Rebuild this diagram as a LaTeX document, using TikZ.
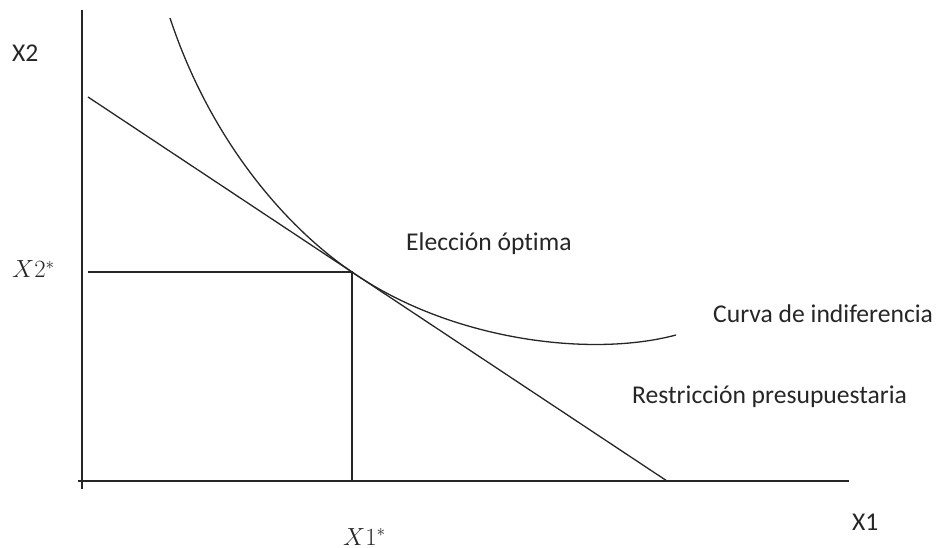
\documentclass[tikz,border=0pt]{standalone}
\usepackage{fontspec}
\setmainfont{Carlito}[Ligatures=NoCommon]
\begin{document}
\begin{tikzpicture}[x=1bp,y=-1bp,
  ln/.style={draw=black!85,line width=1.3bp},
  lbl/.style={inner sep=0pt,font=\fontsize{25.6bp}{30bp}\selectfont,text=black!85},
  mlbl/.style={inner sep=0pt,font=\fontsize{27bp}{32bp}\selectfont,text=black!85}]
\useasboundingbox (0,0) rectangle (941,548);
% axes
\coordinate (ytop) at (82,10);
\coordinate (ybot) at (82,489);
\coordinate (xl) at (78,481);
\coordinate (xr) at (849,481);
\draw[ln] (ytop) -- (ybot);
\draw[ln] (xl) -- (xr);
% budget line
\coordinate (b0) at (88,97);
\coordinate (b1) at (667,481);
\draw[ln] (b0) -- (b1);
% optimum
\coordinate (opt) at (352,272);
\coordinate (hx) at (88,272);
\coordinate (vx) at (352,481);
\draw[ln] (hx) -- (opt) -- (vx);
% indifference curve
\coordinate (c0) at (170,18);
\coordinate (c1) at (676,335);
\draw[ln] (c0) .. controls (212,145) and (290,230) .. (opt)
          .. controls (450,340) and (590,358) .. (c1);
% labels
\node[lbl,anchor=base west] (x2) at (12,62) {X2};
\node[lbl,anchor=base west] (x1) at (852,530) {X1};
\node[mlbl,anchor=base west] (x2s) at (12,278) {$X2^{*}$};
\node[mlbl,anchor=base west] (x1s) at (343,545) {$X1^{*}$};
\node[lbl,anchor=base west] (eo) at (406,251) {Elección óptima};
\node[lbl,anchor=base west] (ci) at (713,323) {Curva de indiferencia};
\node[lbl,anchor=base west] (rp) at (632,403) {Restricción presupuestaria};
\end{tikzpicture}
\end{document}
